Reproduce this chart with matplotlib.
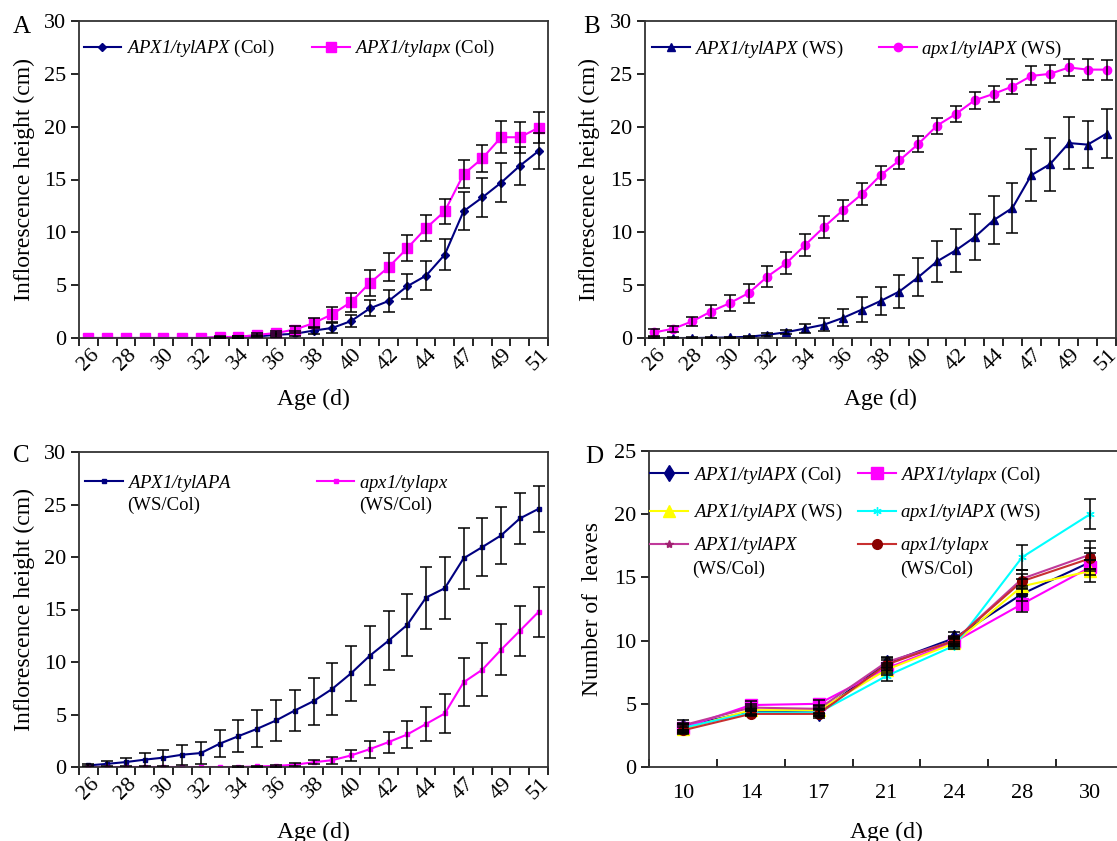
import numpy as np
import matplotlib
matplotlib.use('Agg')
import matplotlib.pyplot as plt
from matplotlib.legend import Legend

plt.rcParams['font.family'] = 'Liberation Serif'
plt.rcParams['mathtext.fontset'] = 'custom'
plt.rcParams['mathtext.it'] = 'Liberation Serif:italic'
plt.rcParams['mathtext.rm'] = 'Liberation Serif:italic'
plt.rcParams['mathtext.default'] = 'it'

# --- Daten ---
age = list(range(26, 46)) + [47, 48, 49, 50, 51]
age_labels = [str(a) for a in age]

# A: Col
a_wt = [0, 0, 0, 0, 0, 0, 0, 0.05, 0.1, 0.15, 0.3, 0.4, 0.7, 0.95, 1.6, 2.8, 3.5, 4.9, 5.9, 7.9,
        12.0, 13.3, 14.7, 16.3, 17.7]
a_wt_err = [0, 0, 0, 0, 0, 0, 0, 0.05, 0.1, 0.1, 0.2, 0.25, 0.3, 0.5, 0.55, 0.75, 1.0, 1.2, 1.35, 1.5,
            1.8, 1.85, 1.85, 1.8, 1.7]
a_mut = [0, 0, 0, 0, 0, 0, 0, 0.1, 0.1, 0.3, 0.47, 0.8, 1.4, 2.25, 3.4, 5.2, 6.7, 8.5, 10.4, 12.0,
         15.5, 17.0, 19.0, 19.0, 19.9]
a_mut_err = [0, 0, 0, 0, 0, 0, 0, 0.05, 0.1, 0.15, 0.2, 0.3, 0.5, 0.7, 0.9, 1.2, 1.3, 1.25, 1.25, 1.2,
             1.3, 1.3, 1.5, 1.45, 1.45]

# B: WS
b_wt = [0, 0, 0, 0.02, 0.05, 0.12, 0.3, 0.55, 0.9, 1.26, 1.9, 2.68, 3.5, 4.4, 5.75, 7.25, 8.3, 9.55,
        11.15, 12.3, 15.4, 16.45, 18.45, 18.3, 19.35]
b_wt_err = [0.05, 0.05, 0.05, 0.05, 0.05, 0.1, 0.15, 0.2, 0.45, 0.6, 0.8, 1.2, 1.35, 1.55, 1.8, 1.95,
            2.05, 2.15, 2.3, 2.35, 2.45, 2.5, 2.45, 2.2, 2.3]
b_mut = [0.53, 0.88, 1.57, 2.5, 3.3, 4.25, 5.82, 7.08, 8.8, 10.5, 12.1, 13.6, 15.4, 16.8, 18.35, 20.1,
         21.2, 22.5, 23.1, 23.8, 24.8, 25.0, 25.6, 25.4, 25.4]
b_mut_err = [0.3, 0.3, 0.4, 0.6, 0.75, 0.9, 1.0, 1.05, 1.05, 1.07, 1.0, 1.05, 0.9, 0.85, 0.75, 0.75,
             0.75, 0.8, 0.75, 0.75, 0.9, 0.85, 0.85, 1.0, 0.95]

# C: WS/Col
c_wt = [0.15, 0.3, 0.47, 0.7, 0.89, 1.17, 1.33, 2.22, 2.94, 3.64, 4.43, 5.38, 6.27, 7.44, 8.92, 10.6,
        12.03, 13.54, 16.14, 17.03, 19.87, 20.95, 22.06, 23.67, 24.59]
c_wt_err = [0.1, 0.25, 0.4, 0.6, 0.75, 0.95, 1.05, 1.3, 1.55, 1.75, 1.95, 1.95, 2.25, 2.45, 2.6, 2.8,
            2.8, 2.95, 2.95, 2.95, 2.9, 2.75, 2.7, 2.45, 2.2]
c_mut = [0, 0, 0, 0, 0, 0, 0, 0, 0, 0.05, 0.1, 0.22, 0.45, 0.65, 1.1, 1.7, 2.37, 3.1, 4.1, 5.1,
         8.07, 9.27, 11.17, 12.97, 14.78]
c_mut_err = [0, 0, 0, 0, 0, 0, 0, 0, 0.05, 0.05, 0.1, 0.15, 0.2, 0.35, 0.5, 0.8, 1.0, 1.3, 1.6, 1.85,
             2.3, 2.5, 2.45, 2.4, 2.4]

# D: Blattzahl
d_age = ['10', '14', '17', '21', '24', '28', '30']
d_col_wt = [3.2, 4.4, 4.3, 8.2, 10.2, 13.7, 16.2]
d_col_wt_err = [0.3, 0.3, 0.3, 0.4, 0.5, 0.6, 0.7]
d_col_mut = [3.1, 4.9, 5.0, 7.8, 9.9, 12.9, 15.8]
d_col_mut_err = [0.3, 0.3, 0.3, 0.4, 0.3, 0.6, 0.6]
d_ws_wt = [3.0, 4.5, 4.5, 7.7, 9.8, 14.3, 15.5]
d_ws_wt_err = [0.3, 0.3, 0.3, 0.4, 0.3, 0.6, 0.9]
d_ws_mut = [3.1, 4.3, 4.3, 7.2, 9.6, 16.6, 20.0]
d_ws_mut_err = [0.3, 0.2, 0.3, 0.4, 0.3, 1.0, 1.2]
d_wc_wt = [3.3, 4.7, 4.6, 8.3, 10.0, 14.9, 16.8]
d_wc_wt_err = [0.4, 0.3, 0.3, 0.4, 0.4, 0.7, 1.1]
d_wc_mut = [2.9, 4.2, 4.2, 8.1, 10.0, 14.7, 16.5]
d_wc_mut_err = [0.3, 0.2, 0.3, 0.4, 0.3, 0.6, 0.8]

W, H = 1117, 841
fig = plt.figure(figsize=(W / 100, H / 100), dpi=100)

TICK_FS = 16
LAB_FS = 17
LEG_FS = 13.5
SPINE = '#333333'


def px_axes(l, t, r, b):
    return fig.add_axes([l / W, 1 - b / H, (r - l) / W, (b - t) / H])


def style_axes(ax):
    for s in ax.spines.values():
        s.set_color(SPINE)
        s.set_linewidth(1.3)
    ax.tick_params(colors='black', labelsize=TICK_FS, width=1.2)
    ax.tick_params(axis='y', direction='out', length=6, pad=3)


def errbars(ax, x, y, e):
    x = np.asarray(x); y = np.asarray(y); e = np.asarray(e)
    m = e > 0
    ax.errorbar(x[m], y[m], yerr=e[m], fmt='none', ecolor='black', elinewidth=1.1,
                capsize=4, capthick=1.1, zorder=3)


def entry(ax, handle, label, x, y, line2=None, y2=None, hl=2.0, tp=0.25):
    # ein Legendeneintrag pro Legende, damit die Position frei wählbar ist
    leg = Legend(ax, [handle], [label], loc='center left', bbox_to_anchor=(x, y), frameon=False,
                 borderpad=0, borderaxespad=0, handlelength=hl, handletextpad=tp,
                 fontsize=LEG_FS, numpoints=1)
    ax.add_artist(leg)
    if line2:
        w = ax.get_position().width * W
        xt = x + (hl + tp) * LEG_FS * 100 / 72 / w
        ax.text(xt, y2, line2, transform=ax.transAxes, fontsize=LEG_FS, va='center', ha='left')


def age_axis(ax, ylab_x):
    ax.set_xlim(-0.5, len(age) - 0.5)
    ax.set_ylim(0, 30)
    ax.set_yticks(range(0, 31, 5))
    ax.set_xticks(range(0, len(age), 2))
    ax.set_xticklabels(age_labels[::2], rotation=45)
    ax.set_xticks(np.arange(-0.5, len(age), 1), minor=True)
    ax.tick_params(axis='x', which='major', length=0, pad=5)
    ax.tick_params(axis='x', which='minor', direction='out', length=6, width=1.2)
    ax.set_ylabel('Inflorescence height (cm)', fontsize=LAB_FS, va='center')
    ax.yaxis.set_label_coords(ylab_x, 0.5)
    ax.set_xlabel('Age (d)', fontsize=LAB_FS, va='center')


x = np.arange(len(age))

# ---------- A ----------
axA = px_axes(79, 21, 548, 338)
style_axes(axA)
hA1, = axA.plot(x, a_wt, color='#000080', marker='D', ms=4, lw=1.5, zorder=2)
hA2, = axA.plot(x, a_mut, color='#ff00ff', marker='s', ms=7, lw=1.5, zorder=2)
errbars(axA, x, a_wt, a_wt_err)
errbars(axA, x, a_mut, a_mut_err)
age_axis(axA, -0.117)
axA.xaxis.set_label_coords(0.5, -61 / 317)
entry(axA, hA1, r'$APX1/tylAPX$ (Col)', 0.01, 0.912)
entry(axA, hA2, r'$APX1/tylapx$ (Col)', 0.497, 0.912)

# ---------- B ----------
axB = px_axes(645, 21, 1116, 338)
style_axes(axB)
hB1, = axB.plot(x, b_wt, color='#000080', marker='^', ms=6, lw=1.5, zorder=2)
hB2, = axB.plot(x, b_mut, color='#ff00ff', marker='o', ms=6, lw=1.5, zorder=2)
errbars(axB, x, b_wt, b_wt_err)
errbars(axB, x, b_mut, b_mut_err)
age_axis(axB, -0.117)
axB.xaxis.set_label_coords(0.5, -61 / 317)
entry(axB, hB1, r'$APX1/tylAPX$ (WS)', 0.015, 0.91)
entry(axB, hB2, r'$apx1/tylAPX$ (WS)', 0.497, 0.91)

# ---------- C ----------
axC = px_axes(79, 452, 548, 767)
style_axes(axC)
hC1, = axC.plot(x, c_wt, color='#000080', marker='s', ms=3.5, lw=1.5, zorder=2)
hC2, = axC.plot(x, c_mut, color='#ff00ff', marker='s', ms=3.5, lw=1.5, zorder=2)
errbars(axC, x, c_wt, c_wt_err)
errbars(axC, x, c_mut, c_mut_err)
age_axis(axC, -0.117)
axC.xaxis.set_label_coords(0.5, -65 / 315)
entry(axC, hC1, r'$APX1/tylAPA$', 0.013, 0.90, '(WS/Col)', 0.83)
entry(axC, hC2, r'$apx1/tylapx$', 0.507, 0.90, '(WS/Col)', 0.83)

# ---------- D ----------
axD = px_axes(649, 451, 1124, 767)
style_axes(axD)
xd = np.arange(len(d_age))
d_series = [
    (d_col_wt, d_col_wt_err, '#000080', '#000080', 'd', 8, r'$APX1/tylAPX$ (Col)', None),
    (d_col_mut, d_col_mut_err, '#ff00ff', '#ff00ff', 's', 8, r'$APX1/tylapx$ (Col)', None),
    (d_ws_wt, d_ws_wt_err, '#ffff00', '#ffff00', '^', 8, r'$APX1/tylAPX$ (WS)', None),
    (d_ws_mut, d_ws_mut_err, '#00ffff', '#00ffff', (6, 2, 0), 6, r'$apx1/tylAPX$ (WS)', None),
    (d_wc_wt, d_wc_wt_err, '#c0399a', '#a02070', '*', 6, r'$APX1/tylAPX$', '(WS/Col)'),
    (d_wc_mut, d_wc_mut_err, '#c83030', '#8b0000', 'o', 7, r'$apx1/tylapx$', '(WS/Col)'),
]
d_pos = [(0.003, 0.924), (0.44, 0.924), (0.003, 0.804), (0.44, 0.804), (0.003, 0.70), (0.44, 0.70)]
for (yv, ev, lc, mc, mk, ms, lab, l2), (px, py) in zip(d_series, d_pos):
    h, = axD.plot(xd, yv, color=lc, marker=mk, ms=ms, mfc=mc, mec=mc, lw=1.5, zorder=2)
    errbars(axD, xd, yv, ev)
    entry(axD, h, lab, px, py, l2, 0.627)
axD.set_xlim(-0.5, len(d_age) - 0.5)
axD.set_ylim(0, 25)
axD.set_yticks(range(0, 26, 5))
axD.set_xticks(xd)
axD.set_xticklabels(d_age)
axD.set_xticks(np.arange(-0.5, len(d_age), 1), minor=True)
axD.tick_params(axis='x', which='major', length=0, pad=12)
axD.tick_params(axis='x', which='minor', direction='in', length=6, width=1.2)
axD.set_ylabel('Number of  leaves', fontsize=LAB_FS, va='center')
axD.yaxis.set_label_coords(-56 / 475, 0.5)
axD.set_xlabel('Age (d)', fontsize=LAB_FS, va='center')
axD.xaxis.set_label_coords(0.5, -65 / 316)

# Panel-Buchstaben
for lab, px, py in [('A', 13, 33), ('B', 583, 33), ('C', 13, 462), ('D', 585, 463)]:
    fig.text(px / W, 1 - py / H, lab, fontsize=18, ha='left', va='baseline')

fig.savefig('out.png', dpi=100)
